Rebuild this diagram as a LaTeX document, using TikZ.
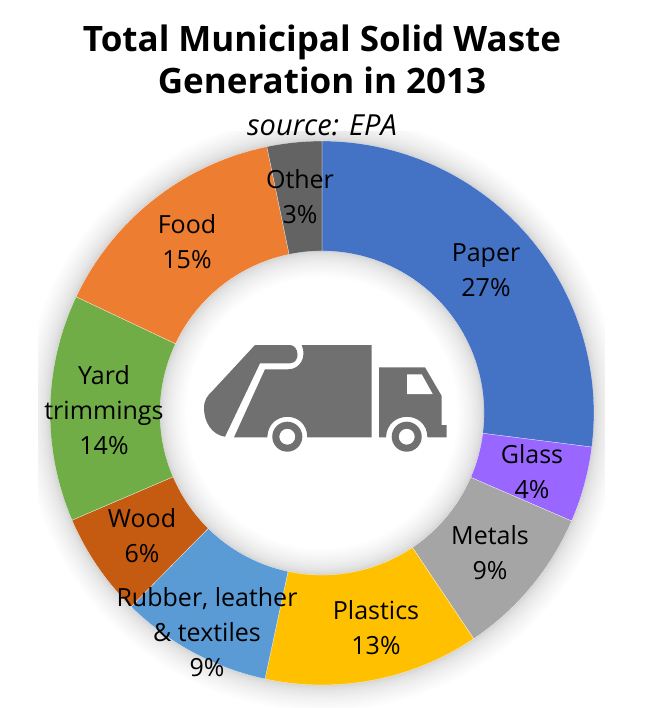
\documentclass[tikz,border=0pt]{standalone}
\usepackage{fontspec}
\setmainfont{Open Sans}
\definecolor{paperblue}{HTML}{4472C4}
\definecolor{glasspurple}{HTML}{9966FF}
\definecolor{metalgray}{HTML}{A5A5A5}
\definecolor{plasticyellow}{HTML}{FFC000}
\definecolor{rubberblue}{HTML}{5B9BD5}
\definecolor{woodbrown}{HTML}{C55A11}
\definecolor{yardgreen}{HTML}{70AD47}
\definecolor{foodorange}{HTML}{ED7D31}
\definecolor{othergray}{HTML}{636363}
\definecolor{truckgray}{HTML}{707070}
\tikzset{
	wedge/.style={draw=white, line width=0.2pt},
	seglabel/.style={align=center, inner sep=0pt, font=\fontsize{25}{35}\selectfont},
	titlelabel/.style={align=center, inner sep=0pt, font=\fontsize{35}{42}\selectfont\bfseries},
	sourcelabel/.style={inner sep=0pt, font=\fontsize{29}{30}\selectfont\itshape},
	truckpart/.style={fill=truckgray}
}

\begin{document}
\begin{tikzpicture}[x=1pt, y=-1pt]
	\useasboundingbox (0, 0) rectangle (644, 708);
	\fill[white] (0, 0) rectangle (644, 708);
	\coordinate (hub) at (322, 413);

	% soft shadow round the ring
	\begin{scope}
		\clip (38, 132) rectangle (605, 708);
		\foreach \i in {1,...,24}
			\fill[black, opacity=0.009, even odd rule] (hub) circle [radius=272+\i*\i/22] (hub) circle [radius=162-\i*\i/22];
	\end{scope}

	% ring, clockwise from the top
	\foreach \a/\b/\col in {-90/7.2/paperblue, 7.2/23.4/glasspurple, 23.4/56.1/metalgray, 56.1/102.1/plasticyellow, 102.1/134.6/rubberblue, 134.6/156.8/woodbrown, 156.8/205.3/yardgreen, 205.3/258.3/foodorange, 258.3/270/othergray}
		\filldraw[wedge, fill=\col] plot[samples=60, domain=\a:\b] ({322 + 272*cos(\x)}, {413 + 272*sin(\x)})
			-- plot[samples=60, domain=\b:\a] ({322 + 162*cos(\x)}, {413 + 162*sin(\x)}) -- cycle;

	\node[titlelabel] (title) at (322, 59) {Total Municipal Solid Waste\\Generation in 2013};
	\node[sourcelabel] (source) at (322, 125) {source: EPA};

	\node[seglabel] (paper) at (486, 270) {Paper\\27\%};
	\node[seglabel] (glass) at (532, 472) {Glass\\4\%};
	\node[seglabel] (metals) at (490, 553) {Metals\\9\%};
	\node[seglabel] (plastics) at (376, 628) {Plastics\\13\%};
	\node[seglabel] (rubber) at (207, 632) {Rubber, leather\\\& textiles\\9\%};
	\node[seglabel] (wood) at (142, 536) {Wood\\6\%};
	\node[seglabel] (yard) at (104, 410) {Yard\\trimmings\\14\%};
	\node[seglabel] (food) at (187, 242) {Food\\15\%};
	\node[seglabel] (other) at (300, 197) {Other\\3\%};

	% truck
	\fill[truckpart] (255, 345) -- (290, 345) .. controls (299, 345) and (301, 363) .. (290, 363.3) -- (260, 363.3)
		-- (225, 436.7) .. controls (212, 435) and (204, 422) .. (204, 408.3) .. controls (204, 400) and (207, 396) .. (213.3, 390) -- cycle;
	\fill[truckpart] (301.7, 345) -- (371.7, 345) -- (371.7, 437.3) -- (307.3, 437.3)
		.. controls (307, 410) and (268, 410) .. (267.3, 437.3) -- (234, 437.3) -- (265, 369.3) -- (288.3, 369.3)
		.. controls (300, 369.3) and (307, 357) .. (301.7, 345) -- cycle;
	\fill[truckpart] (379, 367.3) -- (425, 367.3) -- (441.7, 396) -- (441.7, 425) -- (446.7, 425) -- (446.7, 437.3) -- (427.4, 437.3)
		.. controls (427, 410) and (387, 410) .. (386, 437.3) -- (379, 437.3) -- cycle;
	\fill[white] (407, 374.3) -- (421.7, 374.3) -- (432.7, 394) -- (407, 394) -- cycle;
	\foreach \wx in {287.3, 406.7}
		\fill[truckpart, even odd rule] (\wx, 436.7) circle [radius=15] (\wx, 436.7) circle [radius=8];
\end{tikzpicture}
\end{document}
